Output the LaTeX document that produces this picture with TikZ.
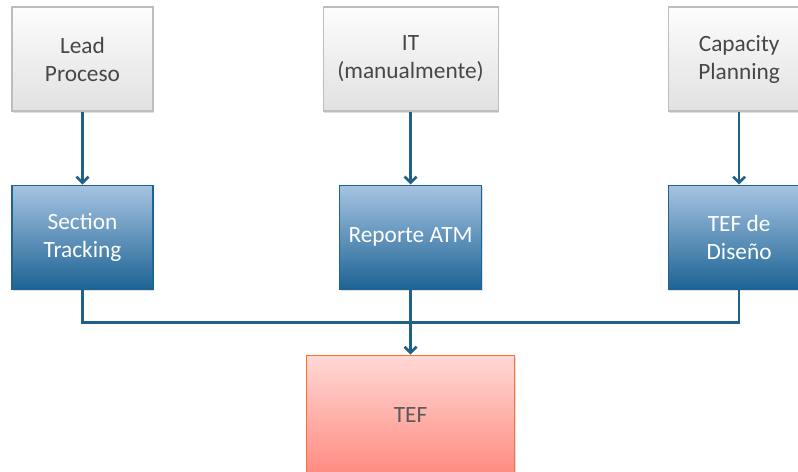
\documentclass[tikz,border=0pt]{standalone}
\usepackage{fontspec}
\setsansfont{Carlito}
\usetikzlibrary{positioning,arrows.meta,shadows}

\definecolor{srcgray}{HTML}{E1E1E1}
\definecolor{srcline}{HTML}{BDBDBD}
\definecolor{stepblue}{HTML}{1D6394}
\definecolor{steplight}{HTML}{A6C4E2}
\definecolor{tefred}{HTML}{FF8A80}
\definecolor{teflight}{HTML}{FFD9D6}
\definecolor{linkblue}{HTML}{1F6189}

\begin{document}
\begin{tikzpicture}[x=0.75pt,y=-0.75pt,->,>={Straight Barb[length=4.5pt,width=9pt,line width=2pt]},
    line width=2pt, draw=linkblue, node distance=54.75pt and 126.75pt,
    base node/.style={rectangle,align=center,minimum height=78pt,line width=0.8pt,
        font=\sffamily\fontsize{17.5}{21}\selectfont,
        drop shadow={opacity=0.25,shadow xshift=1pt,shadow yshift=-1.5pt}},
    src node/.style={base node,draw=srcline,top color=white!92!srcgray,bottom color=srcgray,text=black!72},
    step node/.style={base node,draw=stepblue,top color=steplight,bottom color=stepblue,text=white},
    tef node/.style={base node,draw=red!40!orange!80,top color=teflight,bottom color=tefred,text=black!65,
        minimum width=156pt,minimum height=90pt}]

            \useasboundingbox (0,0) rectangle (798,471);

            \node[src node, minimum width=105.75pt] (1) at (82.5,59) {Lead\\Proceso};
            \node[src node, minimum width=131.25pt] (2) [right=of 1] {IT\\(manualmente)};
            \node[src node, minimum width=106.5pt] (3) [right=of 2] {Capacity\\Planning};

            \node[step node, minimum width=105.75pt] (1b) [below=of 1] {Section\\Tracking};
            \node[step node, minimum width=106.5pt] (2b) [below=of 2] {Reporte ATM};
            \node[step node, minimum width=106.5pt] (3b) [below=of 3] {TEF de\\Diseño};

            \node[tef node] (4) [below=48.75pt of 2b] {TEF};
            \coordinate (bus) at ([yshift=-24.75pt]2b.south);

            \draw (1) -- (1b);
            \draw (2) -- (2b);
            \draw (3) -- (3b);
            \draw[-] (1b.south) |- (bus) -| (3b.south);
            \draw (2b) -- (4);
        \end{tikzpicture}
\end{document}
